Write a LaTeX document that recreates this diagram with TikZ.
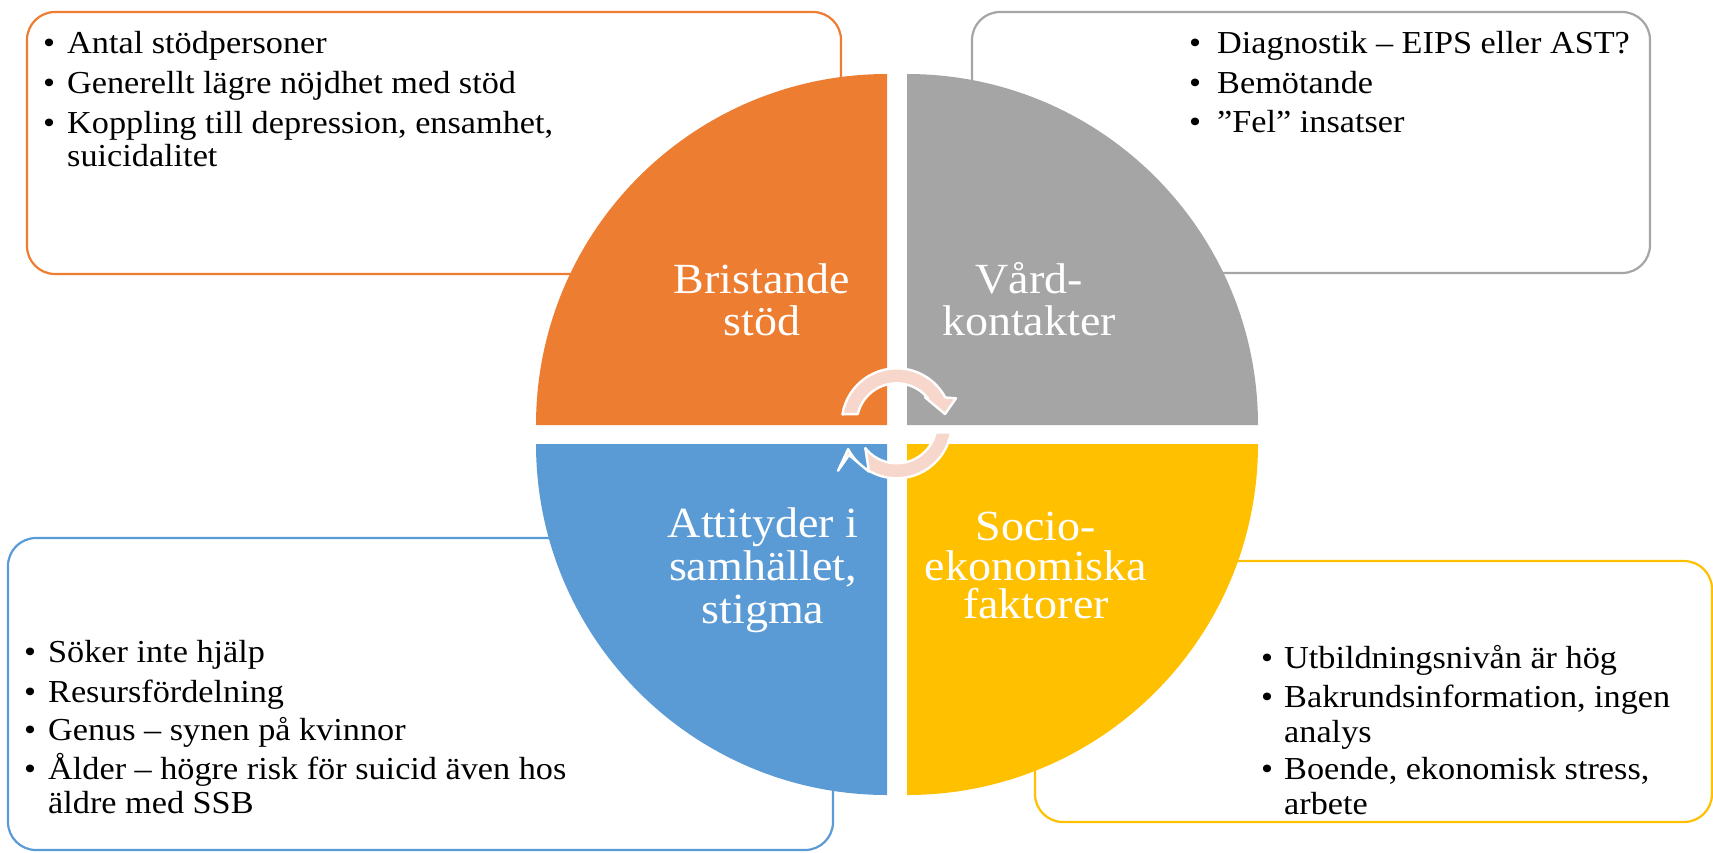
\documentclass[tikz,border=0pt]{standalone}
\usepackage{fontspec}
\usetikzlibrary{calc}
\setmainfont[FakeStretch=1.07]{Liberation Serif}
\definecolor{corange}{HTML}{ED7D31}
\definecolor{cgray}{HTML}{A5A5A5}
\definecolor{cblue}{HTML}{5B9BD5}
\definecolor{cyellow}{HTML}{FFC000}
\definecolor{carrow}{HTML}{F7D6CB}
\tikzset{
  infobox/.style={line width=2.2pt, rounded corners=28pt, fill=white},
  itemtext/.style={inner sep=0pt, anchor=base west, font=\fontsize{32}{38}\selectfont},
  bulletmark/.style={inner sep=0pt, anchor=base, font=\fontsize{32}{38}\selectfont},
  label/.style={inner sep=0pt, anchor=base, text=white, font=\fontsize{43}{44}\selectfont},
  cyclearrow/.style={fill=carrow, draw=white, line width=2.4pt, line join=round}
}
\begin{document}
\begin{tikzpicture}[x=1pt, y=1pt]
\useasboundingbox (0,0) rectangle (1713,-852);

% text boxes behind the circle
\draw[infobox, draw=corange] (27,-12) rectangle (841,-274);
\draw[infobox, draw=cgray] (972,-12) rectangle (1650,-273);
\draw[infobox, draw=cblue] (8,-538) rectangle (833,-850);
\draw[infobox, draw=cyellow] (1035,-561) rectangle (1712,-822);

% the four quarter discs
\fill[corange] (887,-425) -- ++(180:351) arc[start angle=180, end angle=90, radius=351] -- cycle;
\fill[cgray] (907,-425) -- ++(90:351) arc[start angle=90, end angle=0, radius=351] -- cycle;
\fill[cblue] (887,-444) -- ++(180:351) arc[start angle=180, end angle=270, radius=351] -- cycle;
\fill[cyellow] (907,-444) -- ++(0:351) arc[start angle=0, end angle=-90, radius=351] -- cycle;

% circular arrows in the middle
\coordinate (ac) at (896.7,-423.3);
\draw[cyclearrow] ($(ac)+(170.6:55)$) arc[start angle=170.6, end angle=28, radius=55]
  -- (956,-398.3) -- (945,-414) -- (925,-397.3) -- ($(ac)+(38.3:40)$)
  arc[start angle=38.3, end angle=166.6, radius=40] -- cycle;
\begin{scope}[rotate around={180:(897,-434.5)}]
\draw[cyclearrow] ($(ac)+(170.6:55)$) arc[start angle=170.6, end angle=28, radius=55]
  -- (956,-398.3) -- (945,-414) -- (925,-397.3) -- ($(ac)+(38.3:40)$)
  arc[start angle=38.3, end angle=166.6, radius=40] -- cycle;
\end{scope}

% labels in the circle
\node[label] (lb1) at (762,-293) {Bristande};
\node[label] (lb2) at (762,-335) {stöd};
\node[label] (lv1) at (1029,-293) {Vård-};
\node[label] (lv2) at (1029,-335) {kontakter};
\node[label] (la1) at (763,-537) {Attityder i};
\node[label] (la2) at (763,-580) {samhället,};
\node[label] (la3) at (763,-623) {stigma};
\node[label] (ls1) at (1036,-540) {Socio-};
\node[label] (ls2) at (1036,-580) {ekonomiska};
\node[label] (ls3) at (1036,-618) {faktorer};

% top left list
\node[bulletmark] (tlb1) at (49,-53) {•};
\node[itemtext] (tl1) at (67,-53) {Antal stödpersoner};
\node[bulletmark] (tlb2) at (49,-93) {•};
\node[itemtext] (tl2) at (67,-93) {Generellt lägre nöjdhet med stöd};
\node[bulletmark] (tlb3) at (49,-133) {•};
\node[itemtext] (tl3) at (67,-133) {Koppling till depression, ensamhet,};
\node[itemtext] (tl4) at (67,-166) {suicidalitet};

% top right list
\node[bulletmark] (trb1) at (1195,-53) {•};
\node[itemtext] (tr1) at (1217,-53) {Diagnostik – EIPS eller AST?};
\node[bulletmark] (trb2) at (1195,-93) {•};
\node[itemtext] (tr2) at (1217,-93) {Bemötande};
\node[bulletmark] (trb3) at (1195,-132) {•};
\node[itemtext] (tr3) at (1217,-132) {”Fel” insatser};

% bottom left list
\node[bulletmark] (blb1) at (30,-662) {•};
\node[itemtext] (bl1) at (48,-662) {Söker inte hjälp};
\node[bulletmark] (blb2) at (30,-702) {•};
\node[itemtext] (bl2) at (48,-702) {Resursfördelning};
\node[bulletmark] (blb3) at (30,-740) {•};
\node[itemtext] (bl3) at (48,-740) {Genus – synen på kvinnor};
\node[bulletmark] (blb4) at (30,-779) {•};
\node[itemtext] (bl4) at (48,-779) {Ålder – högre risk för suicid även hos};
\node[itemtext] (bl5) at (48,-813) {äldre med SSB};

% bottom right list
\node[bulletmark] (brb1) at (1267,-668) {•};
\node[itemtext] (br1) at (1284,-668) {Utbildningsnivån är hög};
\node[bulletmark] (brb2) at (1267,-707) {•};
\node[itemtext] (br2) at (1284,-707) {Bakrundsinformation, ingen};
\node[itemtext] (br3) at (1284,-742) {analys};
\node[bulletmark] (brb3) at (1267,-779) {•};
\node[itemtext] (br4) at (1284,-779) {Boende, ekonomisk stress,};
\node[itemtext] (br5) at (1284,-814) {arbete};
\end{tikzpicture}
\end{document}
